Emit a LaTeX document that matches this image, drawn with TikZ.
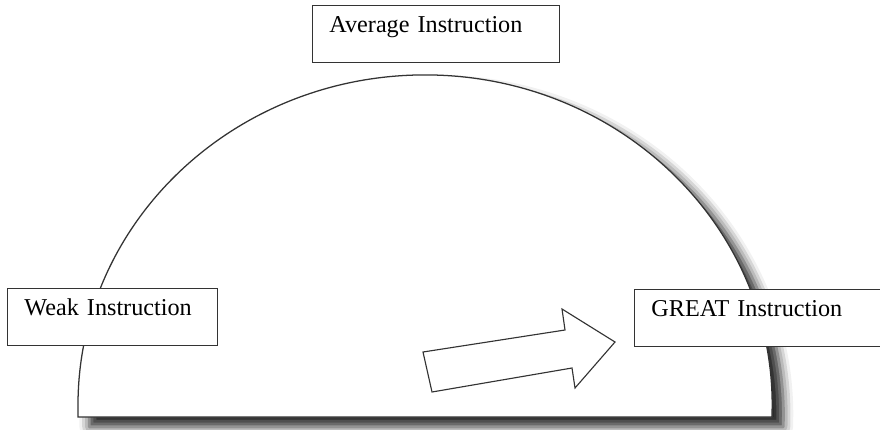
\documentclass[tikz,border=0pt]{standalone}
\usepackage{fontspec}
\setmainfont{Liberation Serif}
\usetikzlibrary{shadows.blur}

\begin{document}
\begin{tikzpicture}[x=0.025cm, y=0.025cm, line join=miter,
		stage/.style={draw=black!80, line width=0.8pt, fill=white, anchor=north west, align=left,
			inner sep=0pt, inner xsep=12pt, text height=19.5pt, text depth=21pt,
			font=\fontsize{17.2}{21}\selectfont}]
		\useasboundingbox (0,0) rectangle (880,429);
		\draw[black!80, line width=0.9pt, fill=white,
			blur shadow={shadow xshift=8pt, shadow yshift=-7pt, shadow blur radius=7pt, shadow opacity=85}]
			(78,12) -- (78,24) arc[start angle=180, end angle=0, x radius=8.675cm, y radius=8.25cm] -- (772,12) -- cycle;
		\node[stage, text width=151.7pt] (avg) at (312,424) {Average Instruction};
		\node[stage, text width=125.4pt] (weak) at (7,141) {Weak Instruction};
		\node[stage, text width=153.8pt] (great) at (634,140) {GREAT Instruction};
		\draw[black!80, line width=0.8pt, fill=white]
			(423,77) -- (432,37) -- (572,61) -- (575,41) -- (615,87) -- (562,120) -- (565,99) -- cycle;
	\end{tikzpicture}
\end{document}
